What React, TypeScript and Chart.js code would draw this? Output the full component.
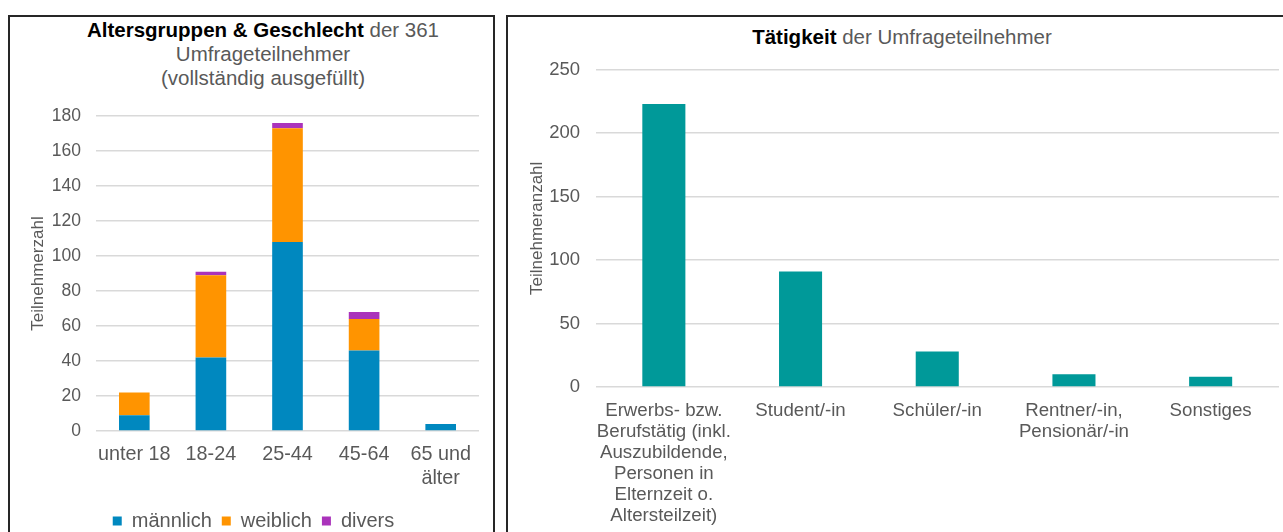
import React, { useEffect, useRef } from "react";
import { Chart, registerables } from "chart.js";

Chart.register(...registerables);

// ---------- Data ----------
const ageGroups: (string | string[])[] = ["unter 18", "18-24", "25-44", "45-64", ["65 und", "älter"]];
const maleCounts = [9, 42, 108, 46, 4];
const femaleCounts = [13, 47, 65, 18, 0];
const diverseCounts = [0, 2, 3, 4, 0];
const seriesNames = ["männlich", "weiblich", "divers"];

const occupationLabels: (string | string[])[] = [
  ["Erwerbs- bzw.", "Berufstätig (inkl.", "Auszubildende,", "Personen in", "Elternzeit o.", "Altersteilzeit)"],
  "Student/-in",
  "Schüler/-in",
  ["Rentner/-in,", "Pensionär/-in"],
  "Sonstiges",
];
const occupationCounts = [223, 91, 28, 10, 8];

const ageAxisMax = 180;
const ageAxisStep = 20;
const occAxisMax = 250;
const occAxisStep = 50;

// ---------- Styles ----------
const FONT = "'Liberation Sans', Arial, Helvetica, sans-serif";
const TEXT = "#595959";
const GRID = "#d9d9d9";
const C_MALE = "#0088bf";
const C_FEMALE = "#ff9400";
const C_DIV = "#aa33bb";
const C_TEAL = "#009999";

function AgeChart() {
  const ref = useRef<HTMLCanvasElement | null>(null);
  useEffect(() => {
    if (!ref.current) return;
    const chart = new Chart(ref.current, {
      type: "bar",
      data: {
        labels: ageGroups as any,
        datasets: [
          { label: seriesNames[0], data: maleCounts, backgroundColor: C_MALE },
          { label: seriesNames[1], data: femaleCounts, backgroundColor: C_FEMALE },
          { label: seriesNames[2], data: diverseCounts, backgroundColor: C_DIV },
        ],
      },
      options: {
        responsive: false,
        animation: false,
        devicePixelRatio: 1,
        datasets: { bar: { barPercentage: 0.4, categoryPercentage: 1 } },
        layout: { padding: { top: 26, left: 18, right: 14, bottom: 0 } },
        plugins: {
          title: { display: false },
          tooltip: { enabled: false },
          legend: {
            position: "bottom",
            labels: {
              boxWidth: 9,
              boxHeight: 9,
              padding: 10,
              color: TEXT,
              font: { family: FONT, size: 20 },
            },
          },
        },
        scales: {
          x: {
            stacked: true,
            grid: { display: false, drawTicks: false },
            border: { display: false },
            ticks: {
              color: TEXT,
              font: { family: FONT, size: 19.8, lineHeight: 1.2 },
              padding: 11.5,
              maxRotation: 0,
              autoSkip: false,
            },
            afterFit: (s: any) => {
              s.height = 70;
            },
          },
          y: {
            stacked: true,
            min: 0,
            max: ageAxisMax,
            grid: { color: GRID, lineWidth: 1.5, drawTicks: false },
            border: { display: false },
            ticks: {
              stepSize: ageAxisStep,
              color: TEXT,
              font: { family: FONT, size: 17.5 },
              padding: 15,
            },
            title: {
              display: true,
              text: "Teilnehmerzahl",
              color: TEXT,
              font: { family: FONT, size: 17, lineHeight: 1.2 },
              padding: { top: 0, bottom: 0 },
            },
            afterFit: (s: any) => {
              s.width = 68;
            },
          },
        },
      } as any,
    });
    return () => chart.destroy();
  }, []);
  return (
    <canvas
      ref={ref}
      width={483}
      height={451}
      style={{ position: "absolute", left: 10, top: 89.5, width: 483, height: 451, display: "block" }}
    />
  );
}

function OccupationChart() {
  const ref = useRef<HTMLCanvasElement | null>(null);
  useEffect(() => {
    if (!ref.current) return;
    const chart = new Chart(ref.current, {
      type: "bar",
      data: {
        labels: occupationLabels as any,
        datasets: [{ label: "Teilnehmeranzahl", data: occupationCounts, backgroundColor: C_TEAL }],
      },
      options: {
        responsive: false,
        animation: false,
        devicePixelRatio: 1,
        datasets: { bar: { barPercentage: 0.315, categoryPercentage: 1 } },
        layout: { padding: { top: 26, left: 18.8, right: 4, bottom: 0 } },
        plugins: {
          title: { display: false },
          tooltip: { enabled: false },
          legend: { display: false },
        },
        scales: {
          x: {
            grid: { display: false, drawTicks: false },
            border: { display: false },
            ticks: {
              color: TEXT,
              font: { family: FONT, size: 18.7, lineHeight: 1.128 },
              padding: 13,
              maxRotation: 0,
              autoSkip: false,
            },
            afterFit: (s: any) => {
              s.height = 146;
            },
          },
          y: {
            min: 0,
            max: occAxisMax,
            grid: { color: GRID, lineWidth: 1.5, drawTicks: false },
            border: { display: false },
            ticks: {
              stepSize: occAxisStep,
              color: TEXT,
              font: { family: FONT, size: 18.5 },
              padding: 15.5,
            },
            title: {
              display: true,
              text: "Teilnehmeranzahl",
              color: TEXT,
              font: { family: FONT, size: 17, lineHeight: 1.2 },
              padding: { top: 0, bottom: 0 },
            },
            afterFit: (s: any) => {
              s.width = 68.7;
            },
          },
        },
      } as any,
    });
    return () => chart.destroy();
  }, []);
  return (
    <canvas
      ref={ref}
      width={775}
      height={490}
      style={{ position: "absolute", left: 508, top: 42.8, width: 775, height: 490, display: "block" }}
    />
  );
}

export default function App() {
  return (
    <div
      style={{
        position: "fixed",
        left: 0,
        top: 0,
        width: 1283,
        height: 532,
        overflow: "hidden",
        background: "#fff",
        fontFamily: FONT,
      }}
    >
      <div
        style={{
          position: "absolute",
          left: 8,
          top: 15,
          width: 487,
          height: 600,
          border: "2px solid #262626",
          boxSizing: "border-box",
        }}
      />
      <div
        style={{
          position: "absolute",
          left: 506,
          top: 15,
          width: 800,
          height: 600,
          border: "2px solid #262626",
          boxSizing: "border-box",
        }}
      />
      <div
        style={{
          position: "absolute",
          left: 63,
          top: 18,
          width: 400,
          textAlign: "center",
          fontSize: 20.5,
          lineHeight: "24px",
          color: TEXT,
          whiteSpace: "nowrap",
        }}
      >
        <span style={{ fontWeight: "bold", color: "#000" }}>Altersgruppen &amp; Geschlecht</span> der 361
        <br />
        Umfrageteilnehmer
        <br />
        (vollständig ausgefüllt)
      </div>
      <div
        style={{
          position: "absolute",
          left: 702,
          top: 25,
          width: 400,
          textAlign: "center",
          fontSize: 20.5,
          lineHeight: "24px",
          color: TEXT,
          whiteSpace: "nowrap",
        }}
      >
        <span style={{ fontWeight: "bold", color: "#000" }}>Tätigkeit</span> der Umfrageteilnehmer
      </div>
      <AgeChart />
      <OccupationChart />
    </div>
  );
}
